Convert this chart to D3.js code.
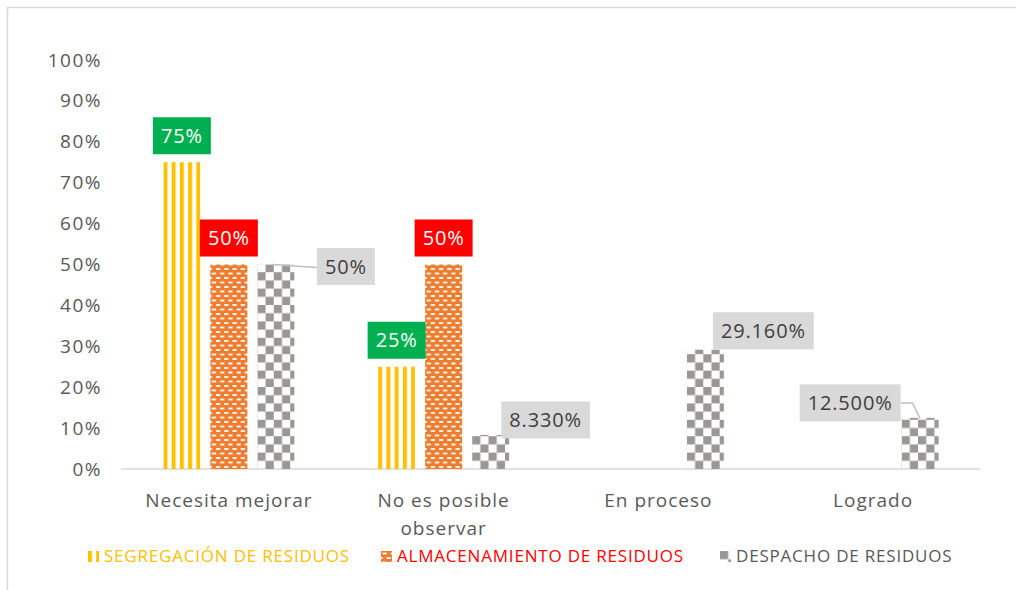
<!DOCTYPE html>
<meta charset="utf-8">
<html>
  <head>
    <style>
      body { margin: 0; background: #fff; }
      text { font-family: "Open Sans", sans-serif; }
      .tick text { fill: #595959; font-size: 19px; letter-spacing: 1.5px; }
      .cat { fill: #595959; font-size: 19px; letter-spacing: 1px; }
      .lbl { font-size: 20px; letter-spacing: 0.85px; }
      .legend text { font-size: 17px; letter-spacing: 0.8px; }
    </style>
    <script src="https://cdn.jsdelivr.net/npm/d3@7"></script>
  </head>
  <body>
    <div id="chart"></div>
    <script>
      var categories = ["Necesita mejorar", "No es posible observar", "En proceso", "Logrado"];
      var seriesNames = ["SEGREGACIÓN DE RESIDUOS", "ALMACENAMIENTO DE RESIDUOS", "DESPACHO DE RESIDUOS"];
      var segregacion = [0.75, 0.25, 0, 0];
      var almacenamiento = [0.50, 0.50, 0, 0];
      var despacho = [0.50, 0.0833, 0.2916, 0.125];
      var segLabels = ["75%", "25%", null, null];
      var almLabels = ["50%", "50%", null, null];
      var despLabels = ["50%", "8.330%", "29.160%", "12.500%"];
      var yTicks = [0, 0.1, 0.2, 0.3, 0.4, 0.5, 0.6, 0.7, 0.8, 0.9, 1];

      var width = 1016, height = 590;

      var svg = d3.select("#chart").append("svg")
          .attr("width", width)
          .attr("height", height);

      // chart frame (cut at right/bottom like the screenshot)
      svg.append("rect")
          .attr("x", 7.5).attr("y", 7.5)
          .attr("width", 1020).attr("height", 600)
          .attr("fill", "none").attr("stroke", "#d9d9d9").attr("stroke-width", 1.5);

      var defs = svg.append("defs");

      var pStripe = defs.append("pattern").attr("id", "p-seg")
          .attr("patternUnits", "userSpaceOnUse").attr("width", 8.25).attr("height", 10);
      pStripe.append("rect").attr("x", 0).attr("y", 0).attr("width", 4).attr("height", 10).attr("fill", "#FFC000");

      var pBrick = defs.append("pattern").attr("id", "p-alm")
          .attr("patternUnits", "userSpaceOnUse").attr("width", 8.25).attr("height", 9);
      pBrick.append("rect").attr("width", 8.25).attr("height", 9).attr("fill", "#ED7D31");
      pBrick.append("rect").attr("x", 1.5).attr("y", 1.6).attr("width", 4.2).attr("height", 1.8).attr("fill", "#fff");
      pBrick.append("rect").attr("x", 5.6).attr("y", 6.1).attr("width", 2.65).attr("height", 1.8).attr("fill", "#fff");
      pBrick.append("rect").attr("x", 0).attr("y", 6.1).attr("width", 1.55).attr("height", 1.8).attr("fill", "#fff");

      var pCheck = defs.append("pattern").attr("id", "p-des")
          .attr("patternUnits", "userSpaceOnUse").attr("width", 16.4).attr("height", 16.4);
      pCheck.append("rect").attr("x", 0).attr("y", 0).attr("width", 8.2).attr("height", 8.2).attr("fill", "#9b9795");
      pCheck.append("rect").attr("x", 8.2).attr("y", 8.2).attr("width", 8.2).attr("height", 8.2).attr("fill", "#9b9795");

      var series = [
        { name: seriesNames[0], values: segregacion, labels: segLabels, fill: "url(#p-seg)", text: "#FFC000", box: "#00B050", ink: "#fff" },
        { name: seriesNames[1], values: almacenamiento, labels: almLabels, fill: "url(#p-alm)", text: "#FF0000", box: "#FF0000", ink: "#fff" },
        { name: seriesNames[2], values: despacho, labels: despLabels, fill: "url(#p-des)", text: "#595959", box: "#D9D9D9", ink: "#404040" }
      ];

      var x = d3.scaleBand().domain(categories).range([121.5, 980.5]);
      var xs = d3.scaleBand().domain(seriesNames).range([-65.5, 65.5]).paddingInner(0.213);
      var y = d3.scaleLinear().domain([0, 1]).range([469, 60]);

      // y axis labels
      var yAxis = svg.append("g")
          .attr("transform", "translate(112,0)")
          .call(d3.axisLeft(y).tickValues(yTicks).tickFormat(d3.format(".0%")).tickSize(0).tickPadding(10));
      yAxis.select(".domain").remove();

      // baseline
      svg.append("line")
          .attr("x1", 121).attr("x2", 980)
          .attr("y1", y(0)).attr("y2", y(0))
          .attr("stroke", "#d9d9d9").attr("stroke-width", 1.5);

      // bars
      series.forEach(function(s) {
        s.values.forEach(function(v, i) {
          if (!v) return;
          var bx = x(categories[i]) + x.bandwidth() / 2 + xs(s.name);
          var g = svg.append("g").attr("transform", "translate(" + bx + "," + y(0) + ")");
          g.append("rect")
              .attr("x", 0).attr("y", y(v) - y(0))
              .attr("width", xs.bandwidth()).attr("height", y(0) - y(v))
              .attr("fill", s.fill);
        });
      });

      // category labels
      categories.forEach(function(c) {
        var t = svg.append("text").attr("class", "cat")
            .attr("x", x(c) + x.bandwidth() / 2)
            .attr("y", 507)
            .attr("text-anchor", "middle");
        if (c === "No es posible observar") {
          t.append("tspan").attr("x", x(c) + x.bandwidth() / 2).text("No es posible");
          t.append("tspan").attr("x", x(c) + x.bandwidth() / 2).attr("dy", 28).text("observar");
        } else {
          t.text(c);
        }
      });

      // data labels
      var despOffsets = [[70, 2], [55, -15], [58, -19], [-70, -15]];
      series.forEach(function(s, si) {
        s.values.forEach(function(v, i) {
          if (s.labels[i] == null) return;
          var cx = x(categories[i]) + x.bandwidth() / 2 + xs(s.name) + xs.bandwidth() / 2;
          var top = y(v);
          var lx, ly;
          if (si < 2) { lx = cx; ly = top - 8 - 18.5; }
          else { lx = cx + despOffsets[i][0]; ly = top + despOffsets[i][1]; }
          var g = svg.append("g");
          var t = g.append("text").attr("class", "lbl")
              .attr("x", lx).attr("y", ly).attr("dy", "0.35em")
              .attr("text-anchor", "middle").attr("fill", s.ink)
              .text(s.labels[i]);
          var w = t.node().getComputedTextLength() + 16;
          g.insert("rect", "text")
              .attr("x", lx - w / 2).attr("y", ly - 18.5)
              .attr("width", w).attr("height", 37)
              .attr("fill", s.box);
          if (si === 2 && i === 0) {
            g.insert("path", "rect")
                .attr("d", "M" + (cx - 4) + "," + top + "L" + (lx - w / 2) + "," + (ly + 1))
                .attr("stroke", "#bfbfbf").attr("fill", "none").attr("stroke-width", 1.5);
          }
          if (si === 2 && i === 3) {
            g.insert("path", "rect")
                .attr("d", "M" + (lx + w / 2) + "," + ly + "L" + (lx + w / 2 + 12) + "," + ly + "L" + cx + "," + (top + 1))
                .attr("stroke", "#bfbfbf").attr("fill", "none").attr("stroke-width", 1.5);
          }
        });
      });

      // legend
      var legendX = [88, 381, 720];
      var legend = svg.selectAll(".legend")
          .data(series)
          .enter().append("g")
          .attr("class", "legend")
          .attr("transform", function(d, i) { return "translate(" + legendX[i] + ",551)"; });
      legend.append("rect")
          .attr("width", 11).attr("height", 11)
          .attr("fill", function(d) { return d.fill; });
      legend.append("text")
          .attr("x", 16).attr("y", 5.5).attr("dy", "0.35em")
          .attr("fill", function(d) { return d.text; })
          .text(function(d) { return d.name; });
    </script>
  </body>
</html>
